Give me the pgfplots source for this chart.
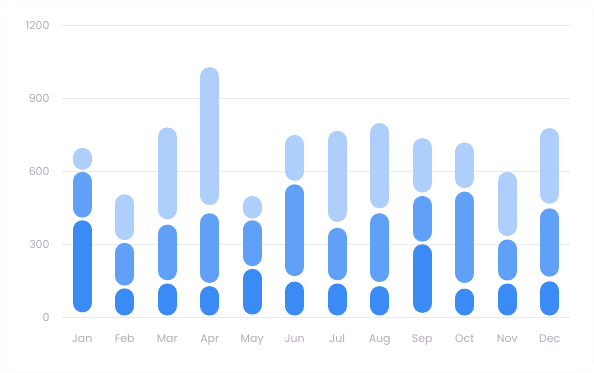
\documentclass[border=0pt]{standalone}
\usepackage{pgfplots}
\pgfplotsset{compat=1.18}
\usepackage{pgfplotstable}
\usepackage{fontspec}
\setmainfont{Poppins}
\definecolor{cdark}{HTML}{3B8BF6}
\definecolor{cmid}{HTML}{60A0F7}
\definecolor{clight}{HTML}{AECFFB}
\definecolor{cgrid}{HTML}{EBEBEE}
\definecolor{ctick}{HTML}{A8ACBC}
\definecolor{cxtick}{HTML}{B2ACB4}
% visible extent (lo, hi) of each rounded segment
\pgfplotstableread{
x dlo dhi mlo mhi llo lhi
0 19 398 409 597 605 696
1 6 118 129 305 316 505
2 6 138 151 380 402 780
3 6 127 140 427 460 1028
4 10 198 209 398 405 498
5 6 146 168 546 560 749
6 6 138 151 367 391 766
7 6 127 144 427 447 798
8 17 299 310 498 512 736
9 6 117 140 516 530 718
10 6 138 150 319 333 597
11 6 147 166 447 466 777
}\datatable
\begin{document}
\begin{tikzpicture}
\path[use as bounding box] (0,0) rectangle (594bp,373bp);
\draw[color=black!3, rounded corners=14bp] (0.5bp,0.5bp) rectangle (593.5bp,372.5bp);
\begin{axis}[
  at={(61bp,56bp)}, anchor=south west,
  scale only axis, width=510bp, height=291.7bp,
  xmin=-0.5, xmax=11.5, ymin=0, ymax=1200,
  ytick={0,300,600,900,1200},
  xtick={0,...,11},
  xticklabels={Jan,Feb,Mar,Apr,May,Jun,Jul,Aug,Sep,Oct,Nov,Dec},
  axis line style={draw=none},
  major tick length=0pt,
  ymajorgrids, grid style={cgrid, line width=0.8bp},
  tick label style={font=\fontsize{11}{13}\selectfont, text=ctick},
  yticklabel style={anchor=east, xshift=-8bp},
  xticklabel style={anchor=base, yshift=-26bp, text=cxtick},
  /pgf/number format/assume math mode=true,
  /pgf/number format/1000 sep={},
  clip=false,
  every axis plot/.append style={mark=none, draw=none},
]
\addplot[mark=none, draw=none,
  error bars/.cd, y dir=both, y explicit, error mark=none,
  error bar style={draw=cdark, line width=19bp, line cap=round}]
  table[x=x, y expr={(\thisrow{dlo}+\thisrow{dhi})/2}, y error expr={(\thisrow{dhi}-\thisrow{dlo})/2-39.1}] {\datatable};
\addplot[mark=none, draw=none,
  error bars/.cd, y dir=both, y explicit, error mark=none,
  error bar style={draw=cmid, line width=19bp, line cap=round}]
  table[x=x, y expr={(\thisrow{mlo}+\thisrow{mhi})/2}, y error expr={(\thisrow{mhi}-\thisrow{mlo})/2-39.1}] {\datatable};
\addplot[mark=none, draw=none,
  error bars/.cd, y dir=both, y explicit, error mark=none,
  error bar style={draw=clight, line width=19bp, line cap=round}]
  table[x=x, y expr={(\thisrow{llo}+\thisrow{lhi})/2}, y error expr={(\thisrow{lhi}-\thisrow{llo})/2-39.1}] {\datatable};
\end{axis}
\end{tikzpicture}
\end{document}
